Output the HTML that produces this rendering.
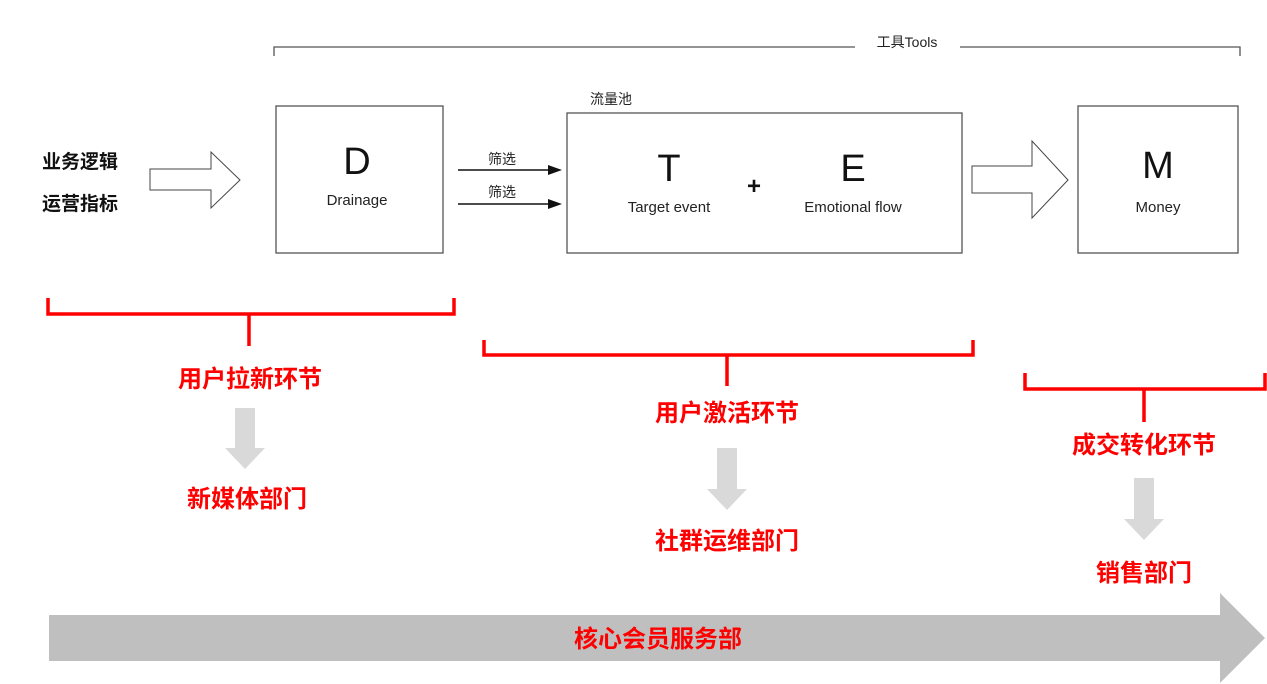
<!DOCTYPE html>
<html><head><meta charset="utf-8"><style>
html,body{margin:0;padding:0;background:#fff;}
svg{display:block;}
text{font-family:"Liberation Sans","Noto Sans CJK SC",sans-serif;}
.b{font-weight:bold;}
</style></head><body>
<svg width="1267" height="684" viewBox="0 0 1267 684" xmlns="http://www.w3.org/2000/svg">
<polyline points="274,56 274,47 855,47" fill="none" stroke="#555" stroke-width="1.3"/>
<polyline points="960,47 1240,47 1240,56" fill="none" stroke="#555" stroke-width="1.3"/>
<text x="907" y="47" font-size="14" text-anchor="middle" fill="#222">工具Tools</text>
<text x="80" y="168" font-size="19" text-anchor="middle" class="b" fill="#111">业务逻辑</text>
<text x="80" y="210" font-size="19" text-anchor="middle" class="b" fill="#111">运营指标</text>
<polygon points="150,169 211,169 211,152 240,180 211,208 211,190 150,190" fill="#fff" stroke="#444" stroke-width="1"/>
<rect x="276" y="106" width="167" height="147" fill="#fff" stroke="#555" stroke-width="1.3"/>
<text x="357" y="174" font-size="38" text-anchor="middle" fill="#111">D</text>
<text x="357" y="205" font-size="15" text-anchor="middle" fill="#222">Drainage</text>
<line x1="458" y1="170" x2="550" y2="170" stroke="#111" stroke-width="1.5"/>
<polygon points="548,165 562,170 548,175" fill="#111"/>
<line x1="458" y1="204" x2="550" y2="204" stroke="#111" stroke-width="1.5"/>
<polygon points="548,199 562,204 548,209" fill="#111"/>
<text x="502" y="164" font-size="14" text-anchor="middle" fill="#222">筛选</text>
<text x="502" y="197" font-size="14" text-anchor="middle" fill="#222">筛选</text>
<text x="590" y="104" font-size="14" fill="#222">流量池</text>
<rect x="567" y="113" width="395" height="140" fill="#fff" stroke="#555" stroke-width="1.3"/>
<text x="669" y="181" font-size="38" text-anchor="middle" fill="#111">T</text>
<text x="669" y="212" font-size="15" text-anchor="middle" fill="#222">Target event</text>
<text x="754" y="194" font-size="24" text-anchor="middle" class="b" fill="#111">+</text>
<text x="853" y="181" font-size="38" text-anchor="middle" fill="#111">E</text>
<text x="853" y="212" font-size="15" text-anchor="middle" fill="#222">Emotional flow</text>
<polygon points="972,166 1032,166 1032,141 1068,180 1032,218 1032,193 972,193" fill="#fff" stroke="#444" stroke-width="1"/>
<rect x="1078" y="106" width="160" height="147" fill="#fff" stroke="#555" stroke-width="1.3"/>
<text x="1158" y="178" font-size="38" text-anchor="middle" fill="#111">M</text>
<text x="1158" y="212" font-size="15" text-anchor="middle" fill="#222">Money</text>
<g fill="none" stroke="#f00" stroke-width="3.5">
<polyline points="48,298 48,314 454,314 454,298"/>
<line x1="249" y1="314" x2="249" y2="346"/>
<polyline points="484,340 484,355 973,355 973,340"/>
<line x1="727" y1="355" x2="727" y2="386"/>
<polyline points="1025,373 1025,389 1265,389 1265,373"/>
<line x1="1144" y1="389" x2="1144" y2="422"/>
</g>
<g fill="#f00" font-weight="bold" font-size="24" text-anchor="middle">
<text x="250" y="387">用户拉新环节</text>
<text x="247" y="507">新媒体部门</text>
<text x="727" y="421">用户激活环节</text>
<text x="727" y="549">社群运维部门</text>
<text x="1144" y="453">成交转化环节</text>
<text x="1144" y="581">销售部门</text>
</g>
<g fill="#d9d9d9">
<polygon points="235,408 255,408 255,448 265,448 245,469 225,448 235,448"/>
<polygon points="717,448 737,448 737,489 747,489 727,510 707,489 717,489"/>
<polygon points="1134,478 1154,478 1154,519 1164,519 1144,540 1124,519 1134,519"/>
</g>
<polygon points="49,615 1220,615 1220,593 1265,638 1220,683 1220,661 49,661" fill="#bfbfbf"/>
<text x="658" y="647" font-size="24" font-weight="bold" text-anchor="middle" fill="#f00">核心会员服务部</text>
</svg>
</body></html>
